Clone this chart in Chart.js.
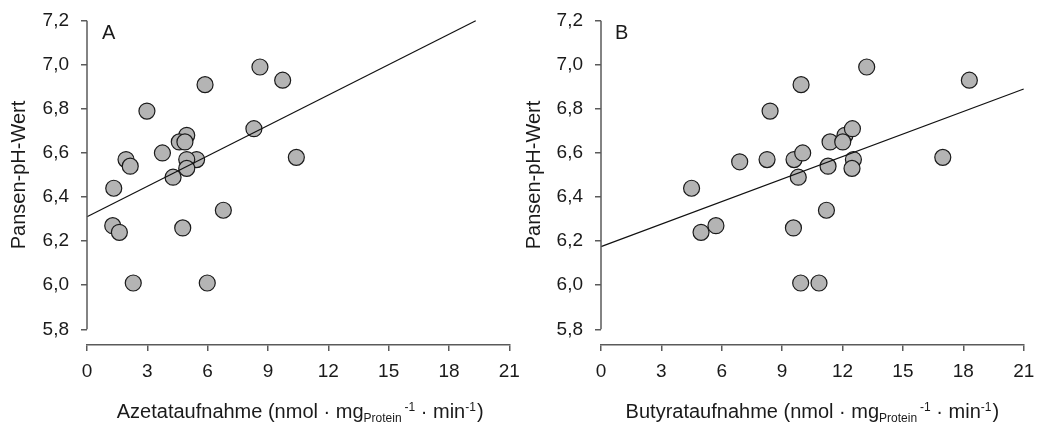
<!DOCTYPE html>
<html><head><meta charset="utf-8">
<script src="https://cdn.jsdelivr.net/npm/chart.js@4"></script>
<style>
html,body{margin:0;padding:0;background:#fff;}
#wrap{position:relative;width:1040px;height:424px;overflow:hidden;}
canvas{position:absolute;top:0;}
</style></head><body>
<div id="wrap">
<canvas id="cA" width="520" height="424" style="left:0;width:520px;height:424px"></canvas>
<canvas id="cB" width="520" height="424" style="left:520px;width:520px;height:424px"></canvas>
</div>
<script>
// ---- data ----
const xTicks = [0, 3, 6, 9, 12, 15, 18, 21];
const yTicks = [5.8, 6.0, 6.2, 6.4, 6.6, 6.8, 7.0, 7.2];

const acetateX = [8.60, 9.73, 5.87, 2.98, 8.30, 4.96, 4.59, 4.87, 3.75, 1.94, 2.15, 5.45, 4.96, 10.41, 4.96, 4.28, 1.33, 1.28, 1.61, 4.76, 6.78, 2.30, 5.98];
const acetateY = [6.99, 6.93, 6.91, 6.79, 6.71, 6.68, 6.65, 6.65, 6.60, 6.57, 6.54, 6.57, 6.57, 6.58, 6.53, 6.49, 6.44, 6.27, 6.24, 6.26, 6.34, 6.01, 6.01];
const acetateFitX = [0, 19.33];
const acetateFitY = [6.311, 7.2];

const butyrateX = [13.20, 18.30, 9.94, 8.40, 12.12, 12.49, 11.38, 12.01, 9.59, 10.02, 8.25, 6.89, 12.54, 16.98, 11.28, 12.47, 9.80, 4.50, 5.71, 4.97, 9.56, 11.20, 9.92, 10.83];
const butyrateY = [6.99, 6.93, 6.91, 6.79, 6.68, 6.71, 6.65, 6.65, 6.57, 6.60, 6.57, 6.56, 6.57, 6.58, 6.54, 6.53, 6.49, 6.44, 6.27, 6.24, 6.26, 6.34, 6.01, 6.01];
const butyrateFitX = [0, 21];
const butyrateFitY = [6.175, 6.89];

const yTitle = 'Pansen-pH-Wert';
const xTitleA = ['Azetataufnahme (nmol · mg', 'Protein', '-1', ' · min', '-1', ')'];
const xTitleB = ['Butyrataufnahme (nmol · mg', 'Protein', '-1', ' · min', '-1', ')'];

// ---- style ----
const FAMILY = "'Liberation Sans', Arial, sans-serif";
const AXIS = '#5a5a5a';
const TEXT = '#1a1a1a';
Chart.defaults.font.family = FAMILY;
Chart.defaults.color = TEXT;

const toPts = (xs, ys) => xs.map((x, i) => ({x: x, y: ys[i]}));
const fmt = v => Number(v).toFixed(1).replace('.', ',');

function makePanel(id, cfg) {
  const decor = {
    id: 'decor',
    afterDraw(chart) {
      const ctx = chart.ctx;
      const ys = chart.scales.y;
      const area = chart.chartArea;
      ctx.save();
      // y axis line from first to last tick
      ctx.strokeStyle = AXIS; ctx.lineWidth = 1.5;
      ctx.beginPath();
      ctx.moveTo(area.left, ys.getPixelForValue(yTicks[0]));
      ctx.lineTo(area.left, ys.getPixelForValue(yTicks[yTicks.length - 1]));
      ctx.stroke();
      ctx.fillStyle = TEXT;
      // y title
      ctx.save();
      ctx.translate(cfg.yTitleX, cfg.yTitleY);
      ctx.rotate(-Math.PI / 2);
      ctx.font = '20px ' + FAMILY;
      ctx.textAlign = 'center'; ctx.textBaseline = 'alphabetic';
      ctx.fillText(yTitle, 0, 0);
      ctx.restore();
      // panel letter
      ctx.font = '20px ' + FAMILY;
      ctx.textAlign = 'left'; ctx.textBaseline = 'alphabetic';
      ctx.fillText(cfg.letter, cfg.letterX, 39);
      // x title with subscript / superscript
      const t = cfg.xTitle;
      const parts = [
        {t: t[0], s: 20, dy: 0, gap: 0},
        {t: t[1], s: 12, dy: 4, gap: 0},
        {t: t[2], s: 12, dy: -7, gap: 3},
        {t: t[3], s: 20, dy: 0, gap: 0},
        {t: t[4], s: 12, dy: -7, gap: 0},
        {t: t[5], s: 20, dy: 0, gap: 1}
      ];
      let total = 0;
      parts.forEach(p => { ctx.font = p.s + 'px ' + FAMILY; p.w = ctx.measureText(p.t).width; total += p.w + p.gap; });
      let x = (area.left + area.right) / 2 - total / 2 + cfg.titleShift;
      parts.forEach(p => { x += p.gap; ctx.font = p.s + 'px ' + FAMILY; ctx.fillText(p.t, x, 418 + p.dy); x += p.w; });
      ctx.restore();
    }
  };

  return new Chart(document.getElementById(id), {
    type: 'scatter',
    data: {
      datasets: [
        {
          data: toPts(cfg.fitX, cfg.fitY),
          showLine: true,
          borderColor: '#111',
          borderWidth: 1.2,
          pointRadius: 0,
          pointHoverRadius: 0
        },
        {
          data: toPts(cfg.xs, cfg.ys),
          pointRadius: 8,
          pointHoverRadius: 8,
          pointBackgroundColor: '#b4b4b4',
          pointBorderColor: '#1a1a1a',
          pointBorderWidth: 1.2
        }
      ]
    },
    options: {
      responsive: false,
      animation: false,
      events: [],
      clip: false,
      layout: {padding: {left: 0, right: cfg.padRight, top: 20.7, bottom: 0}},
      plugins: {legend: {display: false}, tooltip: {enabled: false}},
      scales: {
        x: {
          type: 'linear', min: 0, max: 21,
          afterBuildTicks: s => { s.ticks = xTicks.map(v => ({value: v})); },
          afterFit: s => { s.height = 79; s.paddingLeft = 0; s.paddingRight = 0; },
          ticks: {font: {size: 19}, color: TEXT, padding: 9, maxRotation: 0, autoSkip: false},
          grid: {drawOnChartArea: false, drawTicks: true, tickLength: 6, color: AXIS, lineWidth: 1.5},
          border: {display: true, color: AXIS, width: 1.5}
        },
        y: {
          type: 'linear', min: 5.7288, max: 7.2,
          afterBuildTicks: s => { s.ticks = yTicks.map(v => ({value: v})); },
          afterFit: s => { s.width = cfg.axisX; s.paddingTop = 0; s.paddingBottom = 0; },
          ticks: {font: {size: 19}, color: TEXT, padding: 12, callback: v => fmt(v), autoSkip: false},
          grid: {drawOnChartArea: false, drawTicks: true, tickLength: 6, color: AXIS, lineWidth: 1.5},
          border: {display: false}
        }
      }
    },
    plugins: [decor]
  });
}

makePanel('cA', {
  xs: acetateX, ys: acetateY, fitX: acetateFitX, fitY: acetateFitY,
  axisX: 87, padRight: 10.7, letter: 'A', letterX: 102,
  yTitleX: 25, yTitleY: 175, xTitle: xTitleA, titleShift: 2
});
makePanel('cB', {
  xs: butyrateX, ys: butyrateY, fitX: butyrateFitX, fitY: butyrateFitY,
  axisX: 81, padRight: 16.3, letter: 'B', letterX: 95,
  yTitleX: 20, yTitleY: 175, xTitle: xTitleB, titleShift: 0
});
</script>
</body></html>
